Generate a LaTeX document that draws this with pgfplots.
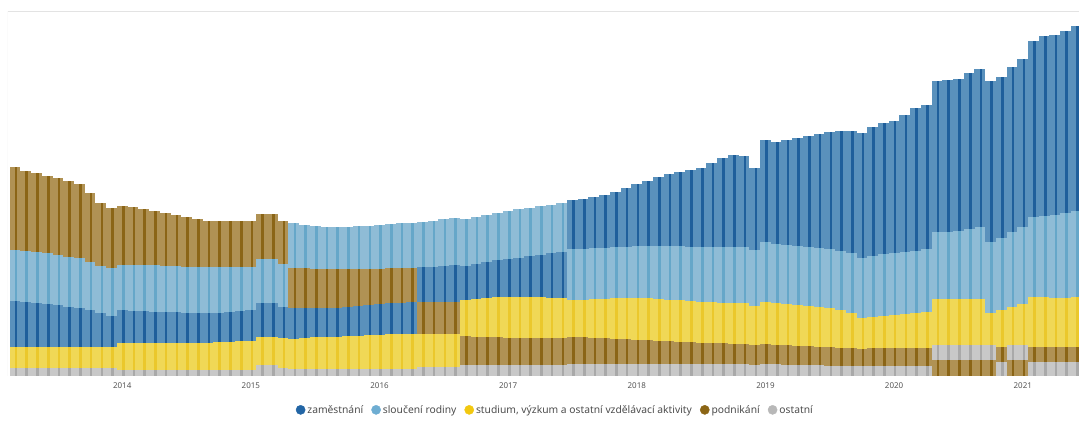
\documentclass[border=0pt]{standalone}
\usepackage{pgfplots}
\pgfplotsset{compat=1.18}
\usepackage{pgfplotstable}
\usepackage{fontspec}
\setmainfont{Noto Sans}

\definecolor{dribbon}{HTML}{5A91BC}
\definecolor{dstrip}{HTML}{1F5F9B}
\definecolor{lribbon}{HTML}{8FBCD6}
\definecolor{lstrip}{HTML}{66A7C9}
\definecolor{yribbon}{HTML}{F0D856}
\definecolor{ystrip}{HTML}{EBC82C}
\definecolor{bribbon}{HTML}{B09254}
\definecolor{bstrip}{HTML}{8B6516}
\definecolor{gribbon}{HTML}{C8C8C8}
\definecolor{gstrip}{HTML}{A9A9A9}
\definecolor{dleg}{HTML}{2265A5}
\definecolor{lleg}{HTML}{6EADD2}
\definecolor{yleg}{HTML}{F2C80F}
\definecolor{bleg}{HTML}{8B6515}
\definecolor{gleg}{HTML}{B8B8B8}
\definecolor{frame}{HTML}{E3E3E3}
\definecolor{ticktext}{HTML}{555555}

% month index (0 = 2013-03), lower and upper edge of each band (zamestnani d, slouceni l, studium y, podnikani b, ostatni g)
\pgfplotstableread{
i gl gh yl yh dl dh ll lh bl bh
0 0 8 8 29 29 75 75 126 126 209
1 0 8 8 29 29 74 74 125 125 205
2 0 8 8 29 29 73 73 124 124 203
3 0 8 8 29 29 72 72 123 123 200
4 0 8 8 29 29 71 71 121 121 198
5 0 8 8 29 29 69 69 119 119 195
6 0 8 8 29 29 68 68 118 118 192
7 0 8 8 29 29 66 66 114 114 183
8 0 8 8 29 29 63 63 110 110 173
9 0 8 8 29 29 60 60 108 108 168
10 0 6 6 33 33 66 66 111 111 170
11 0 6 6 33 33 65 65 111 111 169
12 0 6 6 33 33 65 65 111 111 167
13 0 6 6 33 33 64 64 111 111 165
14 0 6 6 33 33 64 64 110 110 163
15 0 6 6 33 33 64 64 110 110 161
16 0 6 6 33 33 63 63 109 109 159
17 0 6 6 33 33 63 63 109 109 157
18 0 6 6 33 33 63 63 109 109 155
19 0 6 6 34 34 63 63 109 109 155
20 0 6 6 34 34 64 64 109 109 155
21 0 6 6 35 35 65 65 109 109 155
22 0 6 6 35 35 66 66 109 109 155
23 0 11 11 39 39 73 73 117 117 162
24 0 11 11 39 39 73 73 117 117 162
25 0 8 8 38 38 69 69 112 112 155
26 0 7 7 37 37 68 108 153 68 108
27 0 7 7 38 38 68 108 151 68 108
28 0 7 7 39 39 68 107 150 68 107
29 0 7 7 39 39 68 107 149 68 107
30 0 7 7 39 39 68 107 149 68 107
31 0 7 7 40 40 69 107 149 69 107
32 0 7 7 40 40 70 107 150 70 107
33 0 7 7 41 41 71 107 150 71 107
34 0 7 7 41 41 72 107 151 72 107
35 0 7 7 42 42 73 108 152 73 108
36 0 7 7 42 42 73 108 153 73 108
37 0 7 7 42 42 74 108 153 74 108
38 0 9 9 42 74 109 109 154 42 74
39 0 9 9 42 74 109 109 155 42 74
40 0 9 9 42 74 110 110 157 42 74
41 0 9 9 42 74 111 111 158 42 74
42 0 11 40 76 76 110 110 157 11 40
43 0 11 39 77 77 112 112 159 11 39
44 0 11 39 78 78 114 114 161 11 39
45 0 11 39 79 79 116 116 163 11 39
46 0 11 38 79 79 117 117 165 11 38
47 0 11 38 79 79 118 118 167 11 38
48 0 11 38 79 79 120 120 168 11 38
49 0 11 38 79 79 121 121 170 11 38
50 0 11 38 78 78 123 123 171 11 38
51 0 11 38 78 78 124 124 173 11 38
52 0 12 39 76 127 176 76 127 12 39
53 0 12 39 76 127 177 76 127 12 39
54 0 12 38 77 128 179 77 128 12 38
55 0 12 38 77 128 181 77 128 12 38
56 0 12 37 78 129 184 78 129 12 37
57 0 12 37 78 129 188 78 129 12 37
58 0 12 36 78 130 192 78 130 12 36
59 0 12 36 78 130 195 78 130 12 36
60 0 12 35 77 130 199 77 130 12 35
61 0 12 35 76 130 202 76 130 12 35
62 0 12 34 76 130 204 76 130 12 34
63 0 12 34 75 129 206 75 129 12 34
64 0 12 33 74 129 208 74 129 12 33
65 0 12 33 74 129 213 74 129 12 33
66 0 12 33 73 129 218 73 129 12 33
67 0 12 32 73 129 221 73 129 12 32
68 0 12 32 73 129 220 73 129 12 32
69 0 11 31 70 126 208 70 126 11 31
70 0 12 32 74 134 236 74 134 12 32
71 0 12 31 73 132 234 73 132 12 31
72 0 11 31 72 131 236 72 131 11 31
73 0 11 30 71 130 238 71 130 11 30
74 0 11 30 70 129 240 70 129 11 30
75 0 11 29 69 128 242 69 128 11 29
76 0 10 29 68 127 244 68 127 10 29
77 0 10 28 66 125 245 66 125 10 28
78 0 10 28 63 123 245 63 123 10 28
79 0 10 27 58 118 243 58 118 10 27
80 0 10 28 59 120 249 59 120 10 28
81 0 10 28 60 122 253 60 122 10 28
82 0 10 28 61 123 255 61 123 10 28
83 0 10 28 62 124 261 62 124 10 28
84 0 10 28 63 125 268 63 125 10 28
85 0 10 28 64 127 271 64 127 10 28
86 16 31 31 77 144 295 77 144 0 16
87 16 31 31 77 144 296 77 144 0 16
88 16 31 31 77 145 297 77 145 0 16
89 16 31 31 77 147 303 77 147 0 16
90 16 31 31 77 149 307 77 149 0 16
91 16 31 31 63 134 295 63 134 0 16
92 0 14 29 66 138 299 66 138 14 29
93 16 31 31 69 144 309 69 144 0 16
94 16 31 31 72 149 317 72 149 0 16
95 0 14 29 79 159 335 79 159 14 29
96 0 14 29 79 160 340 79 160 14 29
97 0 14 29 78 161 341 78 161 14 29
98 0 14 29 78 163 345 78 163 14 29
99 0 14 29 79 165 350 79 165 14 29
}\ribbons

\pgfplotsset{
  band/.style 2 args={draw=none, mark=none, forget plot,
    error bars/.cd, y dir=plus, y explicit, error mark=none,
    error bar style={line width=#2, draw=#1, line cap=butt}},
}

\begin{document}
\begin{tikzpicture}
\useasboundingbox (-8pt,-49pt) rectangle (1071pt,376pt);
\begin{axis}[
  at={(0pt,0pt)}, anchor=south west,
  scale only axis, width=1071pt, height=364pt,
  xmin=-0.653, xmax=99.25, ymin=0, ymax=364,
  axis line style={draw=none},
  xtick={10,22,34,46,58,70,82,94},
  xticklabels={2014,2015,2016,2017,2018,2019,2020,2021},
  ytick=\empty,
  major tick length=0pt,
  x tick label style={font=\fontsize{8}{9}\selectfont, text=ticktext, yshift=-3pt},
  legend image code/.code={\fill[#1] (3pt,0pt) circle (4.6pt);},
  legend columns=5,
  legend style={draw=none, fill=none, at={(0.511,-0.093)}, anchor=center,
    font=\fontsize{10.3}{12}\selectfont, text=black!70,
    /tikz/every even column/.append style={column sep=6pt}},
]
% ribbons
\addplot[band={gribbon}{10.9pt}] table[x=i, y=gl, y error expr=\thisrow{gh}-\thisrow{gl}] {\ribbons};
\addplot[band={bribbon}{10.9pt}] table[x=i, y=bl, y error expr=\thisrow{bh}-\thisrow{bl}] {\ribbons};
\addplot[band={yribbon}{10.9pt}] table[x=i, y=yl, y error expr=\thisrow{yh}-\thisrow{yl}] {\ribbons};
\addplot[band={lribbon}{10.9pt}] table[x=i, y=ll, y error expr=\thisrow{lh}-\thisrow{ll}] {\ribbons};
\addplot[band={dribbon}{10.9pt}] table[x=i, y=dl, y error expr=\thisrow{dh}-\thisrow{dl}] {\ribbons};
% column strips
\addplot[band={gstrip}{2.6pt}] table[x expr=\thisrow{i}+0.1, y=gl, y error expr=\thisrow{gh}-\thisrow{gl}] {\ribbons};
\addplot[band={bstrip}{2.6pt}] table[x expr=\thisrow{i}+0.1, y=bl, y error expr=\thisrow{bh}-\thisrow{bl}] {\ribbons};
\addplot[band={ystrip}{2.6pt}] table[x expr=\thisrow{i}+0.1, y=yl, y error expr=\thisrow{yh}-\thisrow{yl}] {\ribbons};
\addplot[band={lstrip}{2.6pt}] table[x expr=\thisrow{i}+0.1, y=ll, y error expr=\thisrow{lh}-\thisrow{ll}] {\ribbons};
\addplot[band={dstrip}{2.6pt}] table[x expr=\thisrow{i}+0.1, y=dl, y error expr=\thisrow{dh}-\thisrow{dl}] {\ribbons};

\addlegendimage{dleg}\addlegendentry{zaměstnání}
\addlegendimage{lleg}\addlegendentry{sloučení rodiny}
\addlegendimage{yleg}\addlegendentry{studium, výzkum a ostatní vzdělávací aktivity}
\addlegendimage{bleg}\addlegendentry{podnikání}
\addlegendimage{gleg}\addlegendentry{ostatní}

\draw[frame, line width=1pt] (rel axis cs:0,0) -- (rel axis cs:0,1) -- (rel axis cs:1,1);
\end{axis}
\end{tikzpicture}
\end{document}
